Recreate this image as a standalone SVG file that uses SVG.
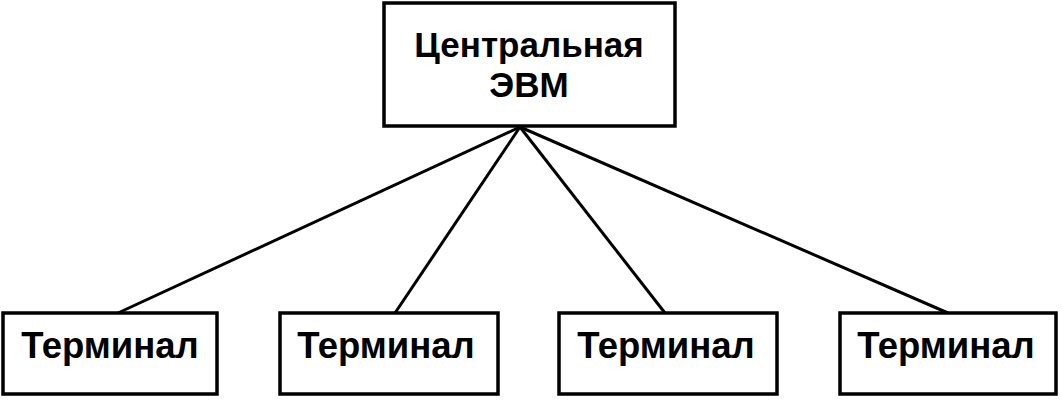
<svg xmlns="http://www.w3.org/2000/svg" width="1062" height="402" viewBox="0 0 1062 402">
<style>
.box{fill:#fff;stroke:#000;stroke-width:3.5}
.lbl{font-family:"Liberation Sans",Arial,sans-serif;font-weight:bold;font-size:35px;fill:#000;text-anchor:middle}
.term{font-size:36.5px}
.conn{stroke:#000;stroke-width:3;fill:none}
</style>
<rect width="1062" height="402" fill="#fff"/>
<g id="connectors">
<line class="conn" x1="520" y1="127" x2="118" y2="313"/>
<line class="conn" x1="520" y1="127" x2="395" y2="313"/>
<line class="conn" x1="520" y1="127" x2="665" y2="313"/>
<line class="conn" x1="520" y1="127" x2="948" y2="313"/>
</g>
<g id="central">
<rect class="box" x="384" y="3" width="291" height="123"/>
<text class="lbl" x="529" y="57">Центральная</text>
<text class="lbl" x="529" y="97">ЭВМ</text>
</g>
<g id="terminal1">
<rect class="box" x="3" y="313" width="214" height="81"/>
<text class="lbl term" x="110" y="358">Терминал</text>
</g>
<g id="terminal2">
<rect class="box" x="280" y="313" width="218" height="81"/>
<text class="lbl term" x="386" y="358">Терминал</text>
</g>
<g id="terminal3">
<rect class="box" x="559" y="313" width="218" height="81"/>
<text class="lbl term" x="666" y="358">Терминал</text>
</g>
<g id="terminal4">
<rect class="box" x="840" y="313" width="216" height="81"/>
<text class="lbl term" x="946" y="358">Терминал</text>
</g>
</svg>
